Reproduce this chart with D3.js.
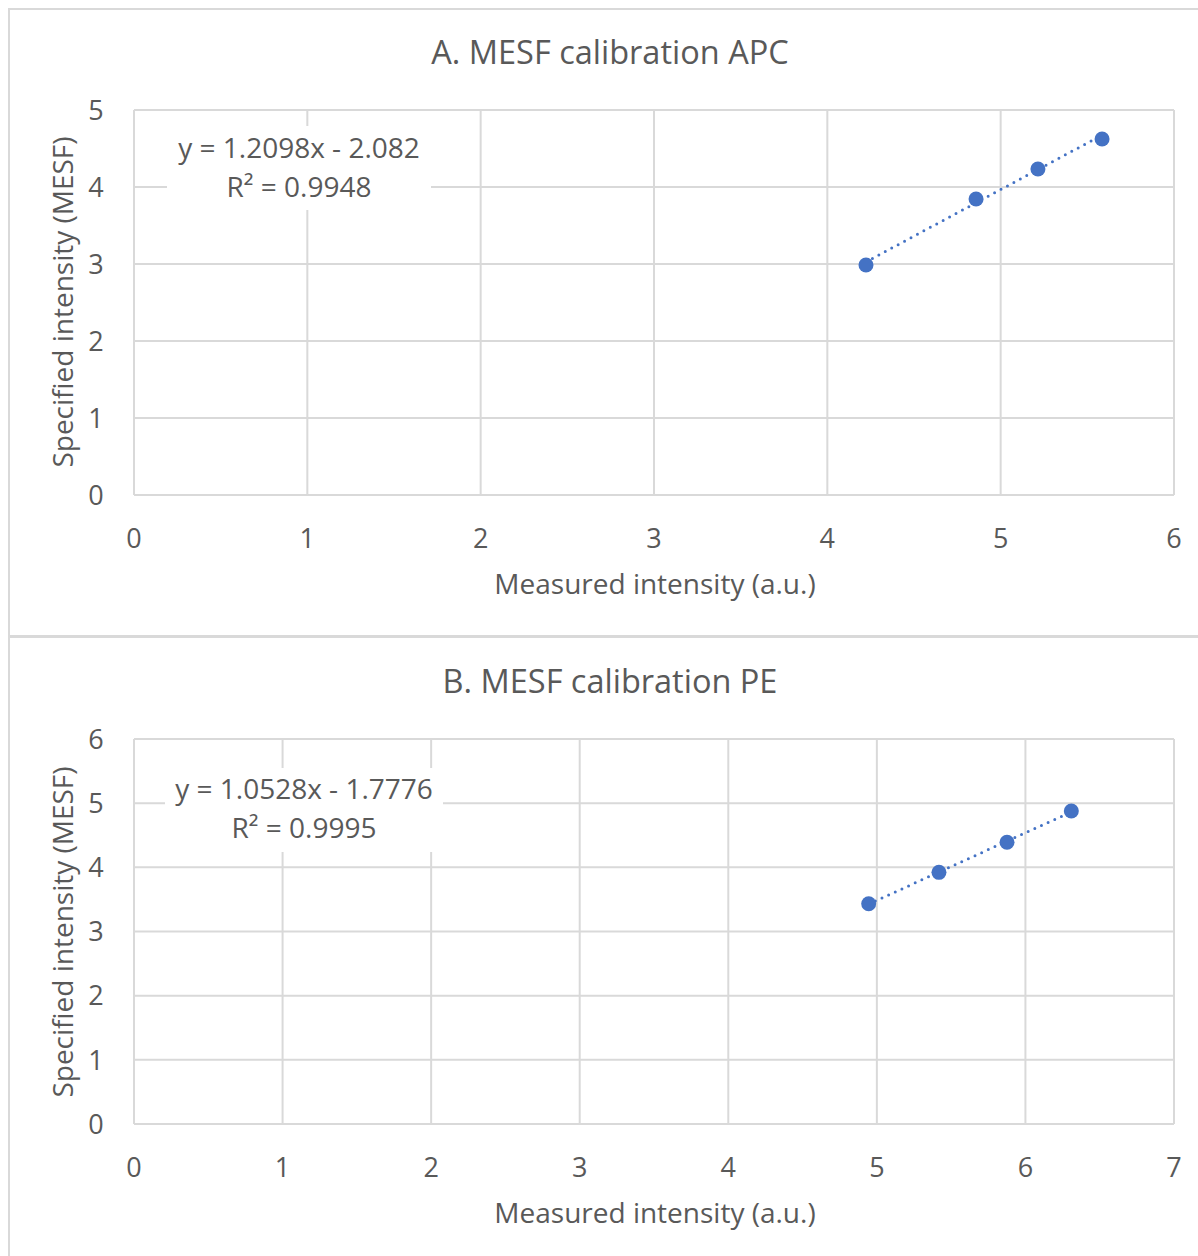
<!DOCTYPE html>
<html>
<head>
<meta charset="utf-8">
<script src="https://cdn.jsdelivr.net/npm/d3@7"></script>
<style>
  body { margin: 0; background: #fff; }
  svg text { font-family: "Open Sans", "Liberation Sans", sans-serif; fill: #595959; }
</style>
</head>
<body>
<svg id="chart" width="1198" height="1256"></svg>
<script>
// panel A: APC
var apcMeasured = [4.223, 4.858, 5.215, 5.585];
var apcSpecified = [2.987, 3.844, 4.234, 4.623];
var apcXTicks = [0, 1, 2, 3, 4, 5, 6];
var apcYTicks = [0, 1, 2, 3, 4, 5];
var apcFit = { slope: 1.2098, intercept: -2.082, eq: "y = 1.2098x - 2.082", r2: "R² = 0.9948" };

// panel B: PE
var peMeasured = [4.945, 5.418, 5.876, 6.309];
var peSpecified = [3.433, 3.922, 4.390, 4.878];
var peXTicks = [0, 1, 2, 3, 4, 5, 6, 7];
var peYTicks = [0, 1, 2, 3, 4, 5, 6];
var peFit = { slope: 1.0528, intercept: -1.7776, eq: "y = 1.0528x - 1.7776", r2: "R² = 0.9995" };

var svg = d3.select("#chart");
var grid = "#d9d9d9";
var blue = "#4472C4";
var fs = "27px";

function drawPanel(opt) {
	var g = svg.append("g").attr("transform", "translate(0," + opt.top + ")");

	g.append("rect")
		.attr("x", 9).attr("y", 1)
		.attr("width", 1200).attr("height", opt.boxH)
		.attr("fill", "#fff").attr("stroke", grid).attr("stroke-width", 2);

	var x = d3.scaleLinear().domain([0, d3.max(opt.xTicks)]).range([134, 1174]);
	var y = d3.scaleLinear().domain([0, d3.max(opt.yTicks)]).range([opt.plotBottom, opt.plotTop]);

	// gridlines
	g.append("g").selectAll("line.h").data(opt.yTicks).enter().append("line")
		.attr("x1", x.range()[0]).attr("x2", x.range()[1])
		.attr("y1", function(d) { return y(d); }).attr("y2", function(d) { return y(d); })
		.attr("stroke", grid).attr("stroke-width", 2);
	g.append("g").selectAll("line.v").data(opt.xTicks).enter().append("line")
		.attr("y1", y.range()[0]).attr("y2", y.range()[1])
		.attr("x1", function(d) { return x(d); }).attr("x2", function(d) { return x(d); })
		.attr("stroke", grid).attr("stroke-width", 2);

	// tick labels
	g.append("g").selectAll("text").data(opt.yTicks).enter().append("text")
		.attr("x", 96).attr("y", function(d) { return y(d); })
		.attr("dy", "0.36em").attr("text-anchor", "middle")
		.style("font-size", fs)
		.text(function(d) { return d; });
	g.append("g").selectAll("text").data(opt.xTicks).enter().append("text")
		.attr("x", function(d) { return x(d); }).attr("y", opt.plotBottom + 43)
		.attr("dy", "0.36em").attr("text-anchor", "middle")
		.style("font-size", fs)
		.text(function(d) { return d; });

	// titles
	g.append("text").attr("x", 610).attr("y", opt.titleY).attr("dy", "0.36em")
		.attr("text-anchor", "middle").style("font-size", "32.5px").text(opt.title);
	g.append("text").attr("x", 655).attr("y", opt.plotBottom + 89).attr("dy", "0.36em")
		.attr("text-anchor", "middle").style("font-size", "28px").text("Measured intensity (a.u.)");
	g.append("text")
		.attr("transform", "translate(63," + opt.yTitleY + ") rotate(-90)")
		.attr("dy", "0.36em").attr("text-anchor", "middle")
		.style("font-size", "28px").text("Specified intensity (MESF)");

	// trendline
	var x0 = d3.min(opt.xs), x1 = d3.max(opt.xs);
	g.append("line")
		.attr("x1", x(x0)).attr("y1", y(opt.fit.slope * x0 + opt.fit.intercept))
		.attr("x2", x(x1)).attr("y2", y(opt.fit.slope * x1 + opt.fit.intercept))
		.attr("stroke", blue).attr("stroke-width", 3)
		.attr("stroke-linecap", "round").attr("stroke-dasharray", "0 7.3");

	// points
	g.append("g").selectAll("circle").data(opt.xs).enter().append("circle")
		.attr("cx", function(d) { return x(d); })
		.attr("cy", function(d, i) { return y(opt.ys[i]); })
		.attr("r", 7.5).attr("fill", blue);

	// equation label
	var lab = g.append("g");
	lab.append("rect")
		.attr("x", opt.lab.x0).attr("y", opt.lab.y0)
		.attr("width", opt.lab.w).attr("height", opt.lab.h).attr("fill", "#fff");
	lab.append("text").attr("x", opt.lab.x0 + opt.lab.w / 2).attr("y", opt.lab.eqY).attr("dy", "0.36em")
		.attr("text-anchor", "middle").style("font-size", "28px").text(opt.fit.eq);
	lab.append("text").attr("x", opt.lab.x0 + opt.lab.w / 2).attr("y", opt.lab.eqY + 39).attr("dy", "0.36em")
		.attr("text-anchor", "middle").style("font-size", "28px").text(opt.fit.r2);
}

drawPanel({
	top: 8, boxH: 627, plotTop: 102, plotBottom: 487,
	titleY: 44, yTitleY: 294, title: "A. MESF calibration APC",
	xTicks: apcXTicks, yTicks: apcYTicks, xs: apcMeasured, ys: apcSpecified, fit: apcFit,
	lab: { x0: 167, y0: 118, w: 264, h: 84, eqY: 140 }
});
drawPanel({
	top: 636, boxH: 640, plotTop: 103, plotBottom: 488,
	titleY: 45, yTitleY: 296, title: "B. MESF calibration PE",
	xTicks: peXTicks, yTicks: peYTicks, xs: peMeasured, ys: peSpecified, fit: peFit,
	lab: { x0: 165, y0: 132, w: 278, h: 84, eqY: 153 }
});
</script>
</body>
</html>
